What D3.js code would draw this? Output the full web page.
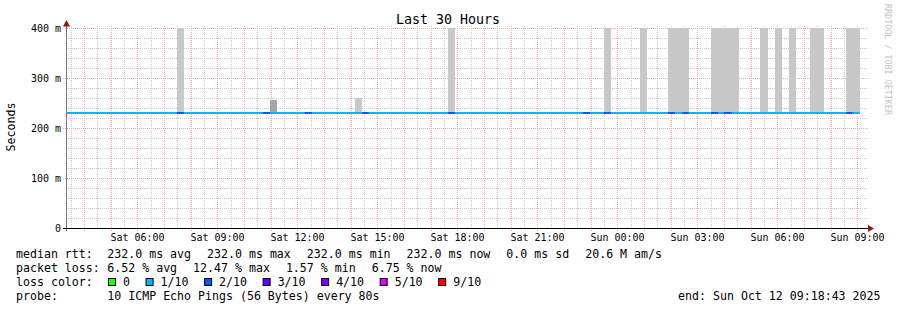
<!DOCTYPE html>
<html>
<head>
<meta charset="utf-8">
<script src="https://cdn.jsdelivr.net/npm/d3@7"></script>
<style>
body { margin: 0; background: #fff; }
svg text { font-family: "DejaVu Sans Mono", monospace; white-space: pre; }
</style>
</head>
<body>
<svg id="chart" width="897" height="310"></svg>
<script>
// graph time window
const startTime = "2025-10-11 03:18:43";
const endTime = "2025-10-12 09:18:43";
const lastSample = "2025-10-12 09:05:00";
const medianRtt = 232; // ms

// smoke (ping spread) bars
const smokeStarts = ["2025-10-11 07:28", "2025-10-11 10:58", "2025-10-11 14:09", "2025-10-11 17:38",
  "2025-10-11 23:29", "2025-10-12 00:50", "2025-10-12 01:53", "2025-10-12 03:30", "2025-10-12 05:20",
  "2025-10-12 05:54", "2025-10-12 06:25", "2025-10-12 07:13", "2025-10-12 08:34"];
const smokeEnds = ["2025-10-11 07:44", "2025-10-11 11:13", "2025-10-11 14:25", "2025-10-11 17:54",
  "2025-10-11 23:45", "2025-10-12 01:06", "2025-10-12 02:40", "2025-10-12 04:33", "2025-10-12 05:38",
  "2025-10-12 06:10", "2025-10-12 06:41", "2025-10-12 07:44", "2025-10-12 09:05"];
const smokeTops = [400, 256, 260, 400, 400, 400, 400, 400, 400, 400, 400, 400, 400];
const smokeShades = ["light", "dark", "light", "light", "light", "light", "light", "light", "light",
  "light", "light", "light", "light"];

// periods where loss was 2/10 (rest of line is 1/10)
const lossStarts = ["2025-10-11 07:28", "2025-10-11 10:42", "2025-10-11 12:16", "2025-10-11 14:25",
  "2025-10-11 17:38", "2025-10-11 22:42", "2025-10-11 23:29", "2025-10-12 01:53", "2025-10-12 02:25",
  "2025-10-12 03:30", "2025-10-12 03:59", "2025-10-12 08:34"];
const lossEnds = ["2025-10-11 07:44", "2025-10-11 10:58", "2025-10-11 12:32", "2025-10-11 14:40",
  "2025-10-11 17:54", "2025-10-11 22:58", "2025-10-11 23:45", "2025-10-12 02:09", "2025-10-12 02:40",
  "2025-10-12 03:46", "2025-10-12 04:16", "2025-10-12 08:49"];

// legend
const lossLabels = ["0", "1/10", "2/10", "3/10", "4/10", "5/10", "9/10"];
const lossColors = ["#26ff00", "#00b8ff", "#0059ff", "#5e00ff", "#7e00ff", "#dd00ff", "#ff0000"];
const rttItems = ["232.0 ms avg", "232.0 ms max", "232.0 ms min", "232.0 ms now", "0.0 ms sd", "20.6 M am/s"];
const lossItems = ["6.52 % avg", "12.47 % max", "1.57 % min", "6.75 % now"];
const yTicks = [0, 100, 200, 300, 400];

const parseFull = d3.timeParse("%Y-%m-%d %H:%M:%S");
const parseMin = d3.timeParse("%Y-%m-%d %H:%M");
const t0 = parseFull(startTime), t1 = parseFull(endTime);

const svg = d3.select("#chart");

// scales
const x = d3.scaleTime().domain([t0, t1]).range([66, 866]);
const y = d3.scaleLinear().domain([0, 400]).range([228, 28]);

// title
svg.append("text").attr("x", 448).attr("y", 24).attr("text-anchor", "middle")
  .style("font-size", "13.3px").attr("fill", "#000").text("Last 30 Hours");

// grid
const minorCol = "#c8c8c8", majorCol = "#f4a8a8";
const grid = svg.append("g");
d3.range(20, 400, 20).filter(v => v % 100 !== 0).forEach(v => {
  grid.append("line").attr("x1", 66).attr("x2", 868).attr("y1", y(v) + 0.5).attr("y2", y(v) + 0.5)
    .attr("stroke", minorCol).attr("stroke-dasharray", "1,1");
});
x.ticks(d3.timeMinute.every(30)).filter(d => d.getMinutes() === 30).forEach(d => {
  const xx = Math.floor(x(d)) + 0.5;
  grid.append("line").attr("x1", xx).attr("x2", xx).attr("y1", 26).attr("y2", 228)
    .attr("stroke", minorCol).attr("stroke-dasharray", "1,1");
});
yTicks.forEach(v => {
  grid.append("line").attr("x1", 63).attr("x2", 868).attr("y1", y(v) + 0.5).attr("y2", y(v) + 0.5)
    .attr("stroke", majorCol).attr("stroke-dasharray", "1,1");
});
x.ticks(d3.timeHour.every(1)).forEach(d => {
  const xx = Math.floor(x(d)) + 0.5;
  grid.append("line").attr("x1", xx).attr("x2", xx).attr("y1", 26).attr("y2", 231)
    .attr("stroke", majorCol).attr("stroke-dasharray", "1,1");
});

// plot area clip
svg.append("clipPath").attr("id", "plot").append("rect")
  .attr("x", 66).attr("y", 28).attr("width", 800).attr("height", 200);
const plot = svg.append("g").attr("clip-path", "url(#plot)");

// smoke
plot.selectAll("rect.smoke").data(smokeStarts).enter().append("rect")
  .attr("class", "smoke")
  .attr("x", (d, i) => Math.round(x(parseMin(d))))
  .attr("width", (d, i) => Math.round(x(parseMin(smokeEnds[i]))) - Math.round(x(parseMin(d))))
  .attr("y", (d, i) => y(smokeTops[i]))
  .attr("height", (d, i) => y(medianRtt) - y(smokeTops[i]))
  .attr("fill", (d, i) => smokeShades[i] === "dark" ? "#a6a6a6" : "#c8c8c8");

// median line
const line = d3.line().x(d => x(d)).y(() => y(medianRtt) + 1);
plot.append("path").datum([t0, parseFull(lastSample)]).attr("d", line)
  .attr("stroke", lossColors[1]).attr("stroke-width", 2).attr("fill", "none");
plot.selectAll("path.loss").data(lossStarts).enter().append("path")
  .attr("class", "loss")
  .attr("d", (d, i) => line([parseMin(d), parseMin(lossEnds[i])]))
  .attr("stroke", lossColors[2]).attr("stroke-width", 2).attr("fill", "none");

// axes
svg.append("line").attr("x1", 66.5).attr("x2", 66.5).attr("y1", 25).attr("y2", 231)
  .attr("stroke", "#777");
svg.append("line").attr("x1", 63).attr("x2", 869).attr("y1", 228.5).attr("y2", 228.5)
  .attr("stroke", "#000");
svg.append("path").attr("d", "M66.5,20L63,26.5L70,26.5Z").attr("fill", "#8b1a1a");
svg.append("path").attr("d", "M874,228.5L868,225L868,232Z").attr("fill", "#8b1a1a");

// y labels
yTicks.forEach(v => {
  svg.append("text").attr("x", 61).attr("y", y(v) + 3.5).attr("text-anchor", "end")
    .style("font-size", "10px").attr("fill", "#000").text(v === 0 ? "0" : v + " m");
});
svg.append("text").attr("transform", "translate(15,127) rotate(-90)").attr("text-anchor", "middle")
  .style("font-size", "11.6px").attr("fill", "#000").text("Seconds");

// x labels
const fmt = d3.timeFormat("%a %H:%M");
x.ticks(d3.timeHour.every(3)).forEach(d => {
  svg.append("text").attr("x", Math.floor(x(d)) + 0.5).attr("y", 241).attr("text-anchor", "middle")
    .style("font-size", "10px").attr("fill", "#000").text(fmt(d));
});

// watermark
svg.append("text").attr("transform", "translate(885,4) rotate(90)")
  .style("font-size", "8.4px").attr("fill", "#c4c4c4").text("RRDTOOL / TOBI OETIKER");

// legend, items laid out left to right with a fixed gap
const lg = svg.append("g").style("font-size", "11.6px").attr("fill", "#000");
function legendRow(label, items, yy) {
  lg.append("text").attr("x", 16).attr("y", yy).text(label);
  let lx = 107.3;
  items.forEach(t => {
    const tt = lg.append("text").attr("x", lx).attr("y", yy).text(t);
    lx += tt.node().getComputedTextLength() + 16;
  });
}
legendRow("median rtt:", rttItems, 258);
legendRow("packet loss:", lossItems, 272);
lg.append("text").attr("x", 16).attr("y", 286).text("loss color:");
let bx = 108;
lossLabels.forEach((t, i) => {
  lg.append("rect").attr("x", bx + 0.5).attr("y", 278.5).attr("width", 7).attr("height", 7)
    .attr("fill", lossColors[i]).attr("stroke", "#000");
  const tt = lg.append("text").attr("x", bx + 15).attr("y", 286).text(t);
  bx = bx + 15 + tt.node().getComputedTextLength() + 15.6;
});
legendRow("probe:", ["10 ICMP Echo Pings (56 Bytes) every 80s"], 300);
lg.append("text").attr("x", 880.5).attr("y", 300).attr("text-anchor", "end")
  .text("end: Sun Oct 12 09:18:43 2025");
</script>
</body>
</html>
